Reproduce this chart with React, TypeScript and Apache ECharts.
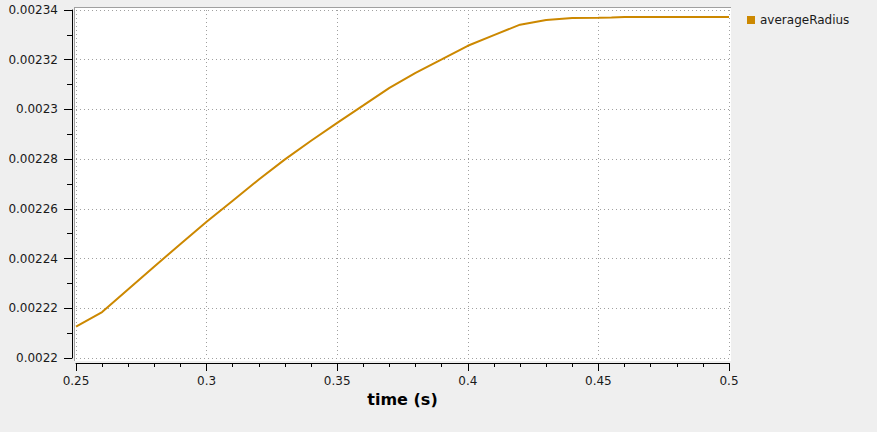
import React, { useEffect, useRef } from "react";
import * as echarts from "echarts";

const seriesName = "averageRadius";
const timeValues = [0.25, 0.26, 0.27, 0.28, 0.29, 0.3, 0.31, 0.32, 0.33, 0.34, 0.35, 0.36, 0.37, 0.38, 0.39, 0.4, 0.41, 0.42, 0.43, 0.44, 0.45, 0.455, 0.46, 0.47, 0.48, 0.49, 0.5];
const radiusValues = [0.0022126, 0.0022185, 0.0022277, 0.0022368, 0.0022459, 0.0022548, 0.0022633, 0.0022718, 0.0022799, 0.0022874, 0.0022946, 0.0023016, 0.0023087, 0.0023147, 0.0023201, 0.0023256, 0.0023299, 0.0023341, 0.002336, 0.0023368, 0.0023369, 0.002337, 0.0023372, 0.0023372, 0.0023372, 0.0023372, 0.0023372];
const xAxisName = "time (s)";

const FONT = "DejaVu Sans";

export default function App() {
  const ref = useRef<HTMLDivElement>(null);
  useEffect(() => {
    if (!ref.current) return;
    const chart = echarts.init(ref.current, undefined, { renderer: "svg" });
    const data = timeValues.map((t, i) => [t, radiusValues[i]]);
    chart.setOption({
      animation: false,
      backgroundColor: "#efefef",
      textStyle: { fontFamily: FONT },
      graphic: [
        {
          type: "rect",
          z: -10,
          shape: { x: 74, y: 7, width: 657, height: 354 },
          style: { fill: "#ffffff" },
          silent: true,
        },
        {
          type: "line",
          z: -9,
          shape: { x1: 74, y1: 7.5, x2: 731, y2: 7.5 },
          style: { stroke: "#a0a0a0", lineWidth: 1 },
          silent: true,
        },
        {
          type: "line",
          z: -9,
          shape: { x1: 74.5, y1: 7, x2: 74.5, y2: 361 },
          style: { stroke: "#a0a0a0", lineWidth: 1 },
          silent: true,
        },
      ],
      legend: {
        left: 742,
        top: 9,
        itemWidth: 8,
        itemHeight: 8,
        itemGap: 4,
        icon: "rect",
        textStyle: { fontFamily: FONT, fontSize: 12, color: "#1a1a1a" },
        data: [seriesName],
      },
      grid: { left: 76, right: 148, top: 10, bottom: 74, containLabel: false },
      xAxis: {
        type: "value",
        min: 0.25,
        max: 0.5,
        interval: 0.05,
        name: xAxisName,
        nameLocation: "middle",
        nameGap: 25,
        nameTextStyle: { fontFamily: FONT, fontSize: 16, fontWeight: "bold", color: "#000" },
        offset: 5,
        axisLine: { show: true, onZero: false, lineStyle: { color: "#000", width: 1 } },
        axisTick: { show: true, length: 8, lineStyle: { color: "#000" } },
        minorTick: { show: true, splitNumber: 5, length: 4, lineStyle: { color: "#000" } },
        axisLabel: {
          fontFamily: FONT,
          fontSize: 12,
          color: "#1a1a1a",
          margin: 12,
          formatter: (v: number) => String(parseFloat(v.toPrecision(6))),
        },
        splitLine: { show: true, lineStyle: { color: "#a0a0a0", type: [1, 3], width: 1 } },
      },
      yAxis: {
        type: "value",
        min: 0.0022,
        max: 0.00234,
        interval: 0.00002,
        offset: 4,
        axisLine: { show: true, onZero: false, lineStyle: { color: "#000", width: 1 } },
        axisTick: { show: true, length: 8, lineStyle: { color: "#000" } },
        minorTick: { show: true, splitNumber: 2, length: 5, lineStyle: { color: "#000" } },
        axisLabel: {
          fontFamily: FONT,
          fontSize: 12,
          color: "#1a1a1a",
          margin: 14,
          formatter: (v: number) => String(parseFloat(v.toPrecision(6))),
        },
        splitLine: { show: true, lineStyle: { color: "#a0a0a0", type: [1, 3], width: 1 } },
      },
      series: [
        {
          name: seriesName,
          type: "line",
          data,
          showSymbol: false,
          symbol: "rect",
          color: "#cc8800",
          lineStyle: { color: "#cc8800", width: 2 },
        },
      ],
    });
    return () => chart.dispose();
  }, []);
  return (
    <div
      ref={ref}
      style={{ position: "fixed", left: 0, top: 0, width: 877, height: 432 }}
    />
  );
}
